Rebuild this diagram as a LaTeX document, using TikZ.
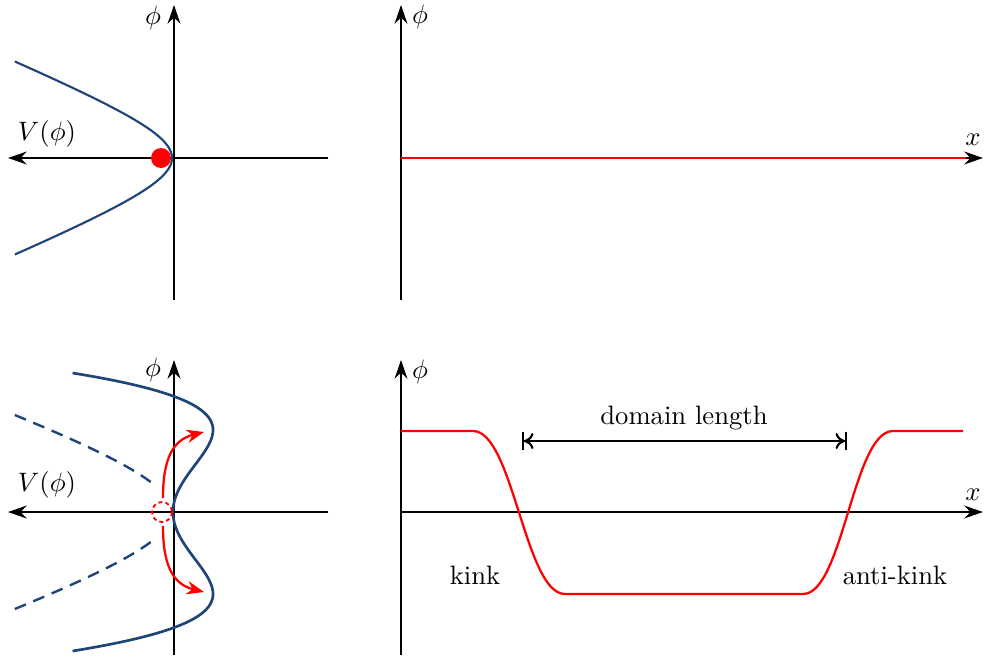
\documentclass[tikz,border=0pt]{standalone}
\usetikzlibrary{arrows.meta}
\definecolor{potblue}{RGB}{31,68,121}
\begin{document}
\begin{tikzpicture}[x=0.0132cm,y=-0.0132cm,
  axis/.style={line width=0.9pt,-{Stealth[length=7pt,width=4.8pt]}},
  pot/.style={potblue,line width=0.9pt},
  field/.style={red,line width=0.85pt},
  kickarrow/.style={red,line width=0.85pt,-{Stealth[length=6.5pt,width=5pt]}},
  lbl/.style={inner sep=0pt}]
\useasboundingbox (0,0) rectangle (985,658);

% ---------- top left ----------
\draw[axis] (174,300) -- (174,5);
\draw[axis] (328,158) -- (8,158);
\draw[pot,line width=0.8pt] plot[domain=-96.5:96.5,samples=121] ({172-97.5*(sqrt(1+(\x/40)^2)-1)},{158+\x});
\fill[red] (161,158) circle[radius=10];
\node[lbl] (phiA) at (153,18) {$\phi$};
\node[lbl] (VA) at (47,134) {$V(\phi)$};

% ---------- top right ----------
\draw[axis] (401,300) -- (401,5);
\draw[axis] (401,158) -- (983,158);
\draw[field] (401,158) -- (966,158);
\node[lbl] (phiB) at (420,17) {$\phi$};
\node[lbl] (xB) at (973,140) {$x$};

% ---------- bottom left ----------
\draw[axis] (174,655) -- (174,360);
\draw[axis] (328,512) -- (8,512);
\draw[pot,dash pattern=on 4.5pt off 3pt] plot[domain=97:27,samples=40] ({172-153*(sqrt(1+(\x/55)^2)-1)},{512-\x});
\draw[pot,dash pattern=on 4.5pt off 3pt] plot[domain=97:27,samples=40] ({172-153*(sqrt(1+(\x/55)^2)-1)},{512+\x});
\draw[pot,line width=1pt] plot[domain=-139:139,samples=141] ({173-40*((\x/82)^4-2*(\x/82)^2)},{512+\x});
\draw[red,line width=0.7pt,dash pattern=on 1.5pt off 1.2pt] (162,512) circle[radius=10];
\coordinate (kt) at (163,498);
\coordinate (kb) at (163,526);
\coordinate (et) at (204,432);
\coordinate (eb) at (204,592);
\draw[kickarrow] (kt) .. controls (163,460) and (172,440) .. (et);
\draw[kickarrow] (kb) .. controls (163,564) and (172,584) .. (eb);
\node[lbl] (phiC) at (153,370) {$\phi$};
\node[lbl] (VC) at (47,485) {$V(\phi)$};

% ---------- bottom right ----------
\draw[axis] (401,655) -- (401,360);
\draw[axis] (401,512) -- (983,512);
\draw[field] (401,431) -- (473,431) .. controls (513,431) and (525,594) .. (565,594)
  -- (803,594) .. controls (843,594) and (853,431) .. (893,431) -- (963,431);
\coordinate (dl) at (522,441);
\coordinate (dr) at (847,441);
\draw[line width=0.8pt,{Bar[width=7pt]Computer Modern Rightarrow[length=3.5pt,width=6pt]}-{Computer Modern Rightarrow[length=3.5pt,width=6pt]Bar[width=7pt]}] (dl) -- (dr);
\node[lbl] (dom) at (684,418) {domain length};
\node[lbl] (kink) at (475,575) {kink};
\node[lbl] (akink) at (895,575) {anti-kink};
\node[lbl] (phiD) at (420,372) {$\phi$};
\node[lbl] (xD) at (973,495) {$x$};
\end{tikzpicture}
\end{document}
